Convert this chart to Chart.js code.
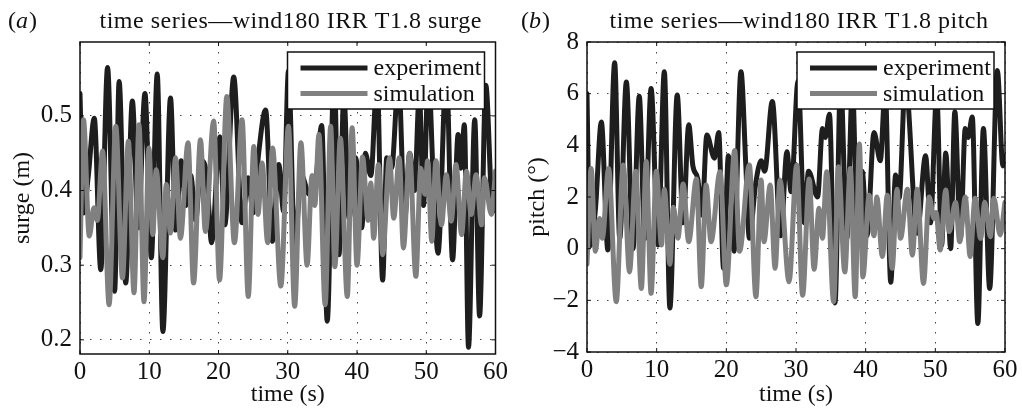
<!DOCTYPE html>
<html>
<head>
<meta charset="utf-8">
<script src="https://cdn.jsdelivr.net/npm/chart.js@4"></script>
<style>
  body { margin: 0; background: #fff; }
  #wrap { position: relative; width: 1022px; height: 410px; }
  canvas { position: absolute; top: 0; }
</style>
</head>
<body>
<div id="wrap">
  <canvas id="surge" width="511" height="410" style="left:0"></canvas>
  <canvas id="pitch" width="511" height="410" style="left:511px"></canvas>
</div>
<script>
// time ticks shared by both panels
const timeTicks = [0, 10, 20, 30, 40, 50, 60];
const surgeTicks = [0.2, 0.3, 0.4, 0.5];
const pitchTicks = [-4, -2, 0, 2, 4, 6, 8];

const surgeExpT = [0, 0.5, 1.2, 2.06, 3.0, 3.98, 5.0, 5.65, 6.6, 7.56, 8.4, 9.38, 10.3, 11.15, 11.97, 13.07, 13.8, 14.6,
  15.3, 16.0, 16.7, 17.5, 18.3, 19.0, 20.2, 20.9, 22.2, 23.4, 24.3, 25.0, 25.8, 26.8, 27.8, 28.7, 29.4, 30.1, 31.0,
  32.0, 33.1, 34.0, 34.9, 35.7, 36.7, 37.4, 38.1, 38.85, 39.8, 40.7, 41.2, 42.0, 42.9, 43.7, 44.3, 45.0, 46.0, 46.9,
  47.6, 48.3, 49.0, 49.6, 50.3, 51.0, 51.7, 52.9, 53.8, 54.6, 55.0, 55.5, 56.1, 57.0, 57.7, 58.6, 59.6, 60];
const surgeExpV = [0.53, 0.37, 0.42, 0.497, 0.294, 0.565, 0.265, 0.546, 0.276, 0.52, 0.35, 0.53, 0.31, 0.556, 0.211, 0.524, 0.347, 0.44,
  0.38, 0.42, 0.36, 0.44, 0.42, 0.33, 0.472, 0.354, 0.552, 0.357, 0.417, 0.37, 0.45, 0.508, 0.332, 0.435, 0.372, 0.56, 0.33,
  0.42, 0.395, 0.41, 0.487, 0.225, 0.56, 0.314, 0.53, 0.363, 0.444, 0.35, 0.45, 0.42, 0.55, 0.28, 0.444, 0.43, 0.55, 0.363,
  0.45, 0.40, 0.53, 0.38, 0.56, 0.42, 0.316, 0.56, 0.307, 0.475, 0.43, 0.488, 0.19, 0.495, 0.232, 0.541, 0.372, 0.417];

const surgeSimT = [0, 0.5, 1.34, 2.0, 2.5, 3.26, 4.2, 5.17, 6.13, 6.99, 7.8, 8.52, 9.24, 9.96, 10.5, 11.0, 11.97, 12.45,
  13.07, 13.8, 14.5, 15.6, 16.4, 17.4, 18.1, 19.3, 20.15, 21.2, 22.3, 23.4, 24.3, 25.1, 25.7, 26.3, 27.1, 27.8, 29.0,
  30.1, 31.0, 31.9, 32.8, 33.5, 33.9, 34.5, 35.4, 36.2, 36.8, 37.6, 38.6, 39.3, 40.0, 40.8, 41.6, 42.0, 42.4, 43.1,
  43.7, 44.7, 45.3, 46.1, 46.7, 47.6, 48.5, 49.2, 49.8, 50.2, 50.8, 51.4, 52.2, 52.9, 53.6, 54.3, 55.1, 55.8, 56.5,
  57.2, 58.0, 58.4, 59.4, 60];
const surgeSimV = [0.31, 0.495, 0.339, 0.377, 0.36, 0.453, 0.247, 0.486, 0.283, 0.466, 0.263, 0.488, 0.251, 0.457, 0.341, 0.428, 0.31, 0.408,
  0.343, 0.444, 0.336, 0.464, 0.276, 0.468, 0.345, 0.493, 0.28, 0.526, 0.33, 0.495, 0.258, 0.459, 0.368, 0.437, 0.33, 0.457, 0.272,
  0.486, 0.245, 0.464, 0.30, 0.42, 0.38, 0.475, 0.247, 0.486, 0.298, 0.47, 0.258, 0.484, 0.30, 0.445, 0.36, 0.41, 0.336, 0.435,
  0.314, 0.444, 0.363, 0.444, 0.323, 0.45, 0.285, 0.43, 0.395, 0.44, 0.332, 0.44, 0.354, 0.421, 0.359, 0.435, 0.341, 0.426, 0.368,
  0.421, 0.354, 0.417, 0.368, 0.426];

// (b) pitch
const pitchExpT = [0, 0.4, 1.2, 2.06, 3.0, 3.97, 4.7, 5.65, 6.6, 7.5, 8.3, 9.2, 10.2, 11.1, 11.9, 12.95, 13.8, 14.6, 15.2,
  15.9, 16.5, 17.2, 18.3, 18.9, 19.6, 20.3, 21.1, 22.1, 22.8, 23.3, 24.2, 25.0, 25.5, 26.6, 27.8, 28.7, 29.3, 30.3, 31.2,
  31.8, 33.1, 33.8, 34.2, 34.8, 35.6, 36.4, 37.3, 38.1, 38.8, 39.5, 40.2, 41.2, 42.1, 42.8, 43.6, 44.3, 44.8, 45.7, 47.4,
  48.6, 49.3, 50.2, 50.9, 51.5, 52.2, 52.8, 53.6, 54.3, 54.7, 55.3, 56.1, 56.9, 57.8, 58.9, 59.7, 60];
const pitchExpV = [6.0, 0.1, 1.5, 4.9, -0.05, 7.2, 0.4, 6.45, 0.0, 5.9, 0.4, 6.2, 0.14, 6.85, -2.3, 5.95, 1.0, 4.8, 3.2,
  2.7, 1.3, 4.4, 3.5, 4.5, -0.76, 3.6, -0.1, 6.85, 3.2, 0.4, 2.5, 3.4, 3.0, 5.7, 0.5, 3.75, 2.2, 6.5, 1.0,
  3.0, 2.0, 4.65, 4.3, 5.2, -2.1, 6.5, 0.4, 6.3, 0.8, 3.0, 0.5, 4.5, 3.4, 6.2, -1.3, 2.85, 1.95, 6.5, 0.6,
  3.6, 1.0, 6.0, 0.14, 3.7, 0.0, 5.3, 0.4, 4.65, 4.3, 5.1, -2.9, 4.65, -1.54, 6.9, 3.2, 3.6];

const pitchSimT = [0, 0.6, 1.2, 1.8, 2.2, 3.1, 4.2, 5.2, 6.1, 7.0, 7.8, 8.5, 9.2, 9.95, 10.7, 11.1, 11.9, 12.4, 13.05,
  13.8, 14.6, 15.7, 16.4, 17.1, 17.8, 19.1, 20.0, 21.2, 21.9, 23.3, 24.25, 25.0, 25.4, 26.3, 27.0, 27.7, 29.0, 30.1,
  30.95, 31.9, 32.6, 33.3, 33.8, 34.4, 35.4, 36.1, 37.0, 37.8, 38.5, 39.1, 39.6, 40.5, 41.2, 41.6, 42.4, 43.1, 43.8,
  44.5, 45.0, 46.0, 46.7, 47.4, 48.3, 49.1, 49.8, 50.1, 50.7, 51.5, 52.0, 52.9, 53.5, 54.3, 55.0, 55.7, 56.5, 57.1,
  57.9, 58.4, 59.3, 60];
const pitchSimV = [-0.6, 3.1, -0.1, 1.17, 0.4, 3.1, -2.05, 3.24, -0.9, 3.0, -1.54, 3.37, -1.73, 3.0, 0.14, 2.3, -0.6, 1.6, 0.4,
  2.5, 0.27, 2.7, -1.47, 2.46, 0.27, 2.98, -1.4, 3.8, -0.1, 3.24, -1.86, 2.66, 0.27, 2.46, -0.76, 2.66, -1.28, 3.24,
  -1.8, 2.7, -0.8, 1.56, 0.4, 2.98, -2.05, 3.17, -0.9, 3.1, -1.86, 4.05, -1.1, 2.07, 0.5, 2.0, -0.3, 2.07, -0.76,
  2.3, 0.4, 2.3, -0.25, 2.3, -1.35, 2.0, 1.17, 1.4, -0.05, 2.27, 0.66, 1.8, 0.27, 2.0, -0.3, 1.95, 0.4, 1.8,
  0.46, 1.95, 0.53, 1.8];

const EXP_COLOR = '#1e1e1e';
const SIM_COLOR = '#808080';
const SERIF = '"Liberation Serif", "Times New Roman", serif';

function toPoints(ts, vs) {
  return ts.map((t, i) => ({ x: t, y: vs[i] }));
}

// frame, inward ticks, boxed legend and the panel heading
const panelDecor = {
  id: 'panelDecor',
  afterDatasetsDraw(chart, args, opts) {
    const { ctx, chartArea: a } = chart;
    const xs = chart.scales.x, ys = chart.scales.y;
    ctx.save();
    ctx.strokeStyle = '#111';
    ctx.lineWidth = 1.5;
    ctx.strokeRect(a.left, a.top, a.right - a.left, a.bottom - a.top);
    ctx.lineWidth = 1;
    ctx.beginPath();
    xs.ticks.forEach(t => {
      const px = xs.getPixelForValue(t.value);
      ctx.moveTo(px, a.bottom); ctx.lineTo(px, a.bottom - 4);
      ctx.moveTo(px, a.top); ctx.lineTo(px, a.top + 4);
    });
    ys.ticks.forEach(t => {
      const py = ys.getPixelForValue(t.value);
      ctx.moveTo(a.left, py); ctx.lineTo(a.left + 4, py);
      ctx.moveTo(a.right, py); ctx.lineTo(a.right - 4, py);
    });
    ctx.stroke();

    // legend box in the upper right corner
    const bw = 197, bh = 57;
    const bx = a.right - 11 - bw, by = a.top + 10;
    ctx.fillStyle = '#fff';
    ctx.fillRect(bx, by, bw, bh);
    ctx.strokeStyle = '#111';
    ctx.lineWidth = 1.5;
    ctx.strokeRect(bx, by, bw, bh);
    ctx.font = '24px ' + SERIF;
    ctx.textAlign = 'left';
    ctx.textBaseline = 'middle';
    chart.data.datasets.forEach((ds, i) => {
      const ry = by + 16 + i * 25.5;
      ctx.strokeStyle = ds.borderColor;
      ctx.lineWidth = 5;
      ctx.beginPath();
      ctx.moveTo(bx + 13, ry);
      ctx.lineTo(bx + 80, ry);
      ctx.stroke();
      ctx.fillStyle = '#111';
      ctx.fillText(ds.label, bx + 86, ry + 1);
    });
    ctx.restore();
  },
  afterDraw(chart, args, opts) {
    const { ctx, chartArea: a } = chart;
    ctx.save();
    ctx.fillStyle = '#111';
    ctx.textBaseline = 'alphabetic';
    ctx.font = '24px ' + SERIF;
    ctx.textAlign = 'center';
    ctx.letterSpacing = '0.5px';
    ctx.fillText(opts.title, (a.left + a.right) / 2 + 3, 28);
    ctx.letterSpacing = '0px';
    // "(a)" with an italic letter
    ctx.textAlign = 'left';
    let x = opts.tagX;
    ctx.fillText('(', x, 28);
    x += ctx.measureText('(').width;
    ctx.font = 'italic 24px ' + SERIF;
    ctx.fillText(opts.tag, x, 28);
    x += ctx.measureText(opts.tag).width + 1;
    ctx.font = '24px ' + SERIF;
    ctx.fillText(')', x, 28);
    ctx.restore();
  }
};

function buildChart(id, p) {
  const ctx = document.getElementById(id).getContext('2d');
  const font = { family: SERIF, size: 24 };
  const tickFont = { family: SERIF, size: 25 };
  return new Chart(ctx, {
    type: 'line',
    data: {
      datasets: [
        { label: 'experiment', data: p.exp, borderColor: EXP_COLOR, order: 1, clip: 0 },
        { label: 'simulation', data: p.sim, borderColor: SIM_COLOR, order: 0, clip: 0 }
      ]
    },
    options: {
      responsive: false,
      animation: false,
      devicePixelRatio: 1,
      layout: { padding: { left: 0, right: p.padRight, top: 42, bottom: 0 } },
      elements: {
        line: { borderWidth: 5, cubicInterpolationMode: 'monotone', fill: false, borderCapStyle: 'round', borderJoinStyle: 'round' },
        point: { radius: 0 }
      },
      plugins: {
        legend: { display: false },
        tooltip: { enabled: false },
        panelDecor: { title: p.title, tag: p.tag, tagX: p.tagX }
      },
      scales: {
        x: {
          type: 'linear', min: 0, max: 60,
          afterBuildTicks: s => { s.ticks = timeTicks.map(v => ({ value: v })); },
          afterFit: s => { s.height = p.xHeight; },
          grid: { color: '#444', lineWidth: 1, drawTicks: false },
          border: { display: false, dash: [1.5, 8.5] },
          ticks: { font: tickFont, color: '#111', padding: 3, maxRotation: 0 },
          title: { display: true, text: 'time (s)', font, color: '#111', padding: { top: 0, bottom: 1 } }
        },
        y: {
          type: 'linear', min: p.yMin, max: p.yMax,
          afterBuildTicks: s => { s.ticks = p.yTicks.map(v => ({ value: v })); },
          afterFit: s => { s.width = p.yWidth; },
          grid: { color: '#444', lineWidth: 1, drawTicks: false },
          border: { display: false, dash: [1.5, 8.5] },
          ticks: { font: tickFont, color: '#111', padding: 8, callback: p.fmt },
          title: { display: true, text: p.yTitle, font, color: '#111', padding: { top: p.yTitlePad, bottom: 0 } }
        }
      }
    },
    plugins: [panelDecor]
  });
}

buildChart('surge', {
  exp: toPoints(surgeExpT, surgeExpV),
  sim: toPoints(surgeSimT, surgeSimV),
  title: 'time series\u2014wind180 IRR T1.8 surge',
  tag: 'a', tagX: 8,
  yMin: 0.181, yMax: 0.599, yTicks: surgeTicks,
  fmt: v => v.toFixed(1),
  yTitle: 'surge (m)', yTitlePad: 8,
  yWidth: 80, xHeight: 56, padRight: 13
});

buildChart('pitch', {
  exp: toPoints(pitchExpT, pitchExpV),
  sim: toPoints(pitchSimT, pitchSimV),
  title: 'time series\u2014wind180 IRR T1.8 pitch',
  tag: 'b', tagX: 10,
  yMin: -4, yMax: 8, yTicks: pitchTicks,
  fmt: v => (v < 0 ? '\u2212' + Math.abs(v) : String(v)),
  yTitle: 'pitch (\u00b0)', yTitlePad: 12,
  yWidth: 76, xHeight: 58, padRight: 17
});
</script>
</body>
</html>
